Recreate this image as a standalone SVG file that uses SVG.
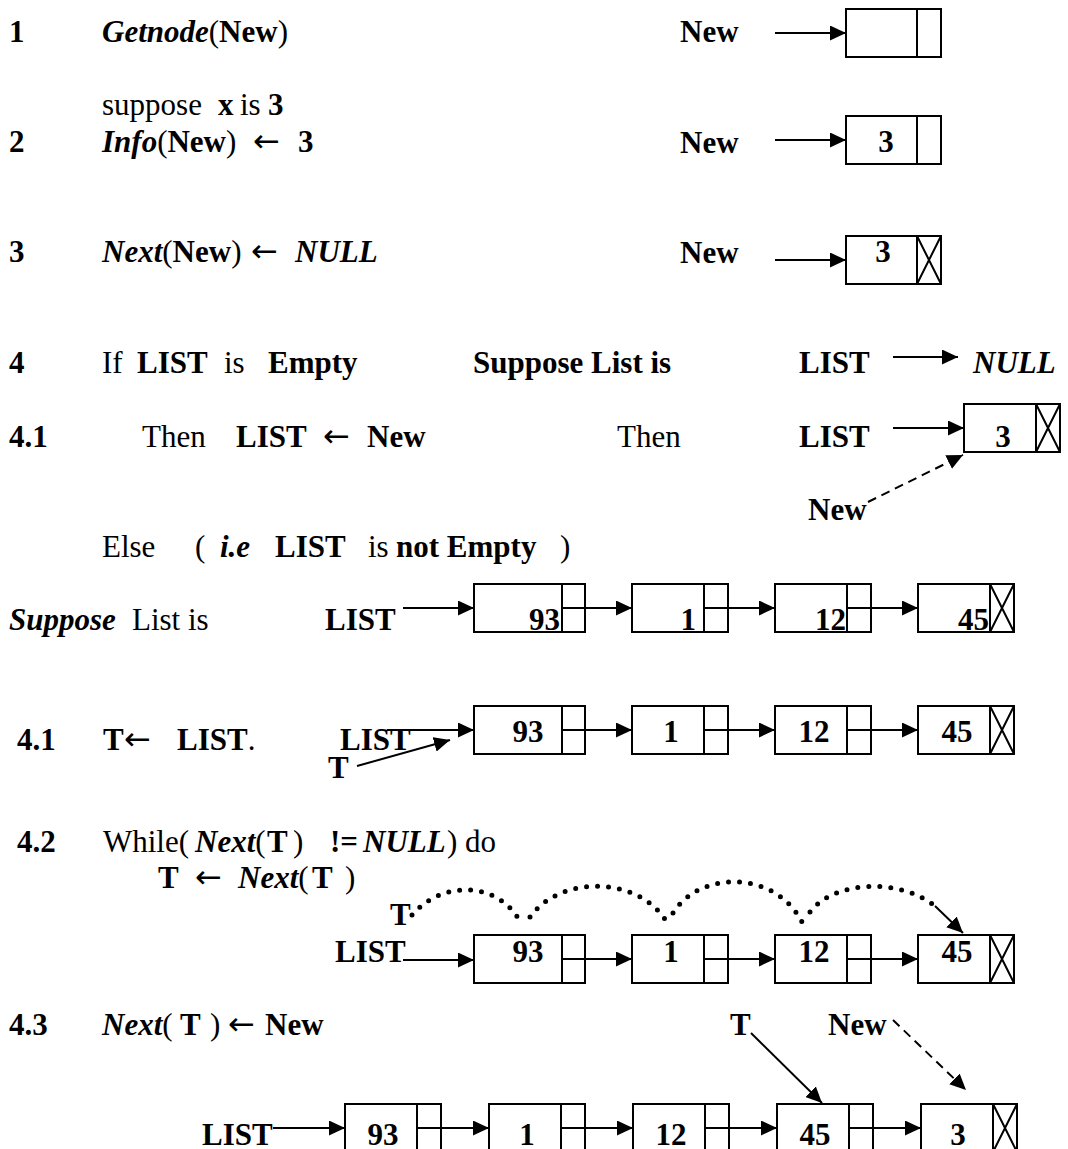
<svg xmlns="http://www.w3.org/2000/svg" width="1068" height="1149" viewBox="0 0 1068 1149">
<defs>
<style>
.t{font-family:"Liberation Serif","Times New Roman",serif;font-size:31px;fill:#000}
.b{font-weight:bold}
.i{font-style:italic}
.la{font-family:"DejaVu Sans",sans-serif;font-weight:normal;font-style:normal;font-size:32px}
.bx{fill:#fff;stroke:#000;stroke-width:2}
.ln{fill:none;stroke:#000;stroke-width:2}
.ar{fill:none;stroke:#000;stroke-width:2;marker-end:url(#ah)}
.da{stroke-dasharray:9 6}
.dt{fill:none;stroke:#000;stroke-width:5;stroke-linecap:round;stroke-dasharray:0 11}
.c{text-anchor:middle}
.e{text-anchor:end}
</style>
<marker id="ah" markerUnits="userSpaceOnUse" viewBox="0 0 16 15" refX="16" refY="7.5" markerWidth="16" markerHeight="15" orient="auto">
<path d="M0,0 L16,7.5 L0,15 z" fill="#000"/>
</marker>
</defs>
<rect width="1068" height="1149" fill="#fff"/>

<g id="text">
<text class="t b" x="9" y="42">1</text>
<text class="t" x="102" y="42"><tspan class="b i">Getnode</tspan>(<tspan class="b">New</tspan>)</text>
<text class="t b" x="680" y="42">New</text>

<text class="t" x="102" y="115">suppose<tspan class="b" x="218">x</tspan><tspan x="240">is</tspan><tspan class="b" x="268">3</tspan></text>
<text class="t b" x="9" y="152">2</text>
<text class="t" x="102" y="152"><tspan class="b i">Info</tspan>(<tspan class="b">New</tspan>)<tspan class="la" x="253">←</tspan><tspan class="b" x="298">3</tspan></text>
<text class="t b" x="680" y="153">New</text>

<text class="t b" x="9" y="262">3</text>
<text class="t" x="102" y="262"><tspan class="b i">Next</tspan>(<tspan class="b">New</tspan>)<tspan class="la" x="251">←</tspan><tspan class="b i" x="295">NULL</tspan></text>
<text class="t b" x="680" y="263">New</text>

<text class="t b" x="9" y="373">4</text>
<text class="t" x="102" y="373">If<tspan class="b" x="137">LIST</tspan><tspan x="224">is</tspan><tspan class="b" x="268">Empty</tspan></text>
<text class="t b" x="473" y="373">Suppose List is</text>
<text class="t b" x="799" y="373">LIST</text>
<text class="t b i" x="973" y="373">NULL</text>

<text class="t b" x="9" y="447">4.1</text>
<text class="t" x="142" y="447">Then<tspan class="b" x="236">LIST</tspan><tspan class="la" x="323">←</tspan><tspan class="b" x="367">New</tspan></text>
<text class="t" x="617" y="447">Then</text>
<text class="t b" x="799" y="447">LIST</text>
<text class="t b" x="808" y="520">New</text>

<text class="t" x="102" y="557">Else<tspan x="195">(</tspan><tspan class="b i" x="220">i.e</tspan><tspan class="b" x="275">LIST</tspan><tspan x="368">is</tspan><tspan class="b" x="396">not Empty</tspan><tspan x="560">)</tspan></text>

<text class="t" x="9" y="630"><tspan class="b i">Suppose</tspan><tspan x="132">List is</tspan></text>
<text class="t b" x="325" y="630">LIST</text>

<text class="t b" x="17" y="750">4.1</text>
<text class="t b" x="103" y="750">T<tspan class="la" x="124">←</tspan><tspan x="177">LIST</tspan><tspan font-weight="normal">.</tspan></text>
<text class="t b" x="340" y="750">LIST</text>
<text class="t b" x="328" y="778">T</text>

<text class="t b" x="17" y="852">4.2</text>
<text class="t" x="103" y="852">While(<tspan class="b i" x="195">Next</tspan>(<tspan class="b" x="267">T</tspan><tspan x="293">)</tspan><tspan class="b" x="330">!=</tspan><tspan class="b i" x="363">NULL</tspan><tspan x="447">) do</tspan></text>
<text class="t" x="158" y="888"><tspan class="b">T</tspan><tspan class="la" x="195">←</tspan><tspan class="b i" x="238">Next</tspan>(<tspan class="b" x="312">T</tspan><tspan x="345">)</tspan></text>
<text class="t b" x="390" y="925">T</text>
<text class="t b" x="335" y="962">LIST</text>

<text class="t b" x="9" y="1035">4.3</text>
<text class="t" x="102" y="1035"><tspan class="b i">Next</tspan>(<tspan class="b" x="180">T</tspan><tspan x="210">)</tspan><tspan class="la" x="228">←</tspan><tspan class="b" x="265">New</tspan></text>
<text class="t b" x="730" y="1035">T</text>
<text class="t b" x="828" y="1035">New</text>
<text class="t b" x="202" y="1145">LIST</text>
</g>

<g id="node-new1"><rect class="bx" x="846" y="9" width="95" height="48"/><line class="ln" x1="917" y1="9" x2="917" y2="57"/></g>
<g id="node-new2"><rect class="bx" x="846" y="116" width="95" height="48"/><line class="ln" x1="917" y1="116" x2="917" y2="164"/><text class="t b c" x="886" y="152">3</text></g>
<g id="node-new3"><rect class="bx" x="846" y="236" width="95" height="48"/><line class="ln" x1="917" y1="236" x2="917" y2="284"/><path class="ln" d="M917,236 L941,284 M941,236 L917,284"/><text class="t b c" x="883" y="262">3</text></g>
<g id="node-list1"><rect class="bx" x="964" y="404" width="96" height="48"/><line class="ln" x1="1036" y1="404" x2="1036" y2="452"/><path class="ln" d="M1036,404 L1060,452 M1060,404 L1036,452"/><text class="t b c" x="1003" y="447">3</text></g>

<g id="row-suppose">
<g id="s93"><rect class="bx" x="474" y="584" width="111" height="48"/><line class="ln" x1="562" y1="584" x2="562" y2="632"/><text class="t b e" x="560" y="630">93</text></g>
<g id="s1"><rect class="bx" x="632" y="584" width="96" height="48"/><line class="ln" x1="704" y1="584" x2="704" y2="632"/><text class="t b e" x="696" y="630">1</text></g>
<g id="s12"><rect class="bx" x="775" y="584" width="96" height="48"/><line class="ln" x1="847" y1="584" x2="847" y2="632"/><text class="t b e" x="846" y="630">12</text></g>
<g id="s45"><rect class="bx" x="918" y="584" width="96" height="48"/><line class="ln" x1="990" y1="584" x2="990" y2="632"/><path class="ln" d="M990,584 L1014,632 M1014,584 L990,632"/><text class="t b e" x="989" y="630">45</text></g>
</g>

<g id="row-41">
<g id="a93"><rect class="bx" x="474" y="706" width="111" height="48"/><line class="ln" x1="562" y1="706" x2="562" y2="754"/><text class="t b c" x="528" y="742">93</text></g>
<g id="a1"><rect class="bx" x="632" y="706" width="96" height="48"/><line class="ln" x1="704" y1="706" x2="704" y2="754"/><text class="t b c" x="671" y="742">1</text></g>
<g id="a12"><rect class="bx" x="775" y="706" width="96" height="48"/><line class="ln" x1="847" y1="706" x2="847" y2="754"/><text class="t b c" x="814" y="742">12</text></g>
<g id="a45"><rect class="bx" x="918" y="706" width="96" height="48"/><line class="ln" x1="990" y1="706" x2="990" y2="754"/><path class="ln" d="M990,706 L1014,754 M1014,706 L990,754"/><text class="t b c" x="957" y="742">45</text></g>
</g>

<g id="row-42">
<g id="b93"><rect class="bx" x="474" y="935" width="111" height="48"/><line class="ln" x1="562" y1="935" x2="562" y2="983"/><text class="t b c" x="528" y="962">93</text></g>
<g id="b1"><rect class="bx" x="632" y="935" width="96" height="48"/><line class="ln" x1="704" y1="935" x2="704" y2="983"/><text class="t b c" x="671" y="962">1</text></g>
<g id="b12"><rect class="bx" x="775" y="935" width="96" height="48"/><line class="ln" x1="847" y1="935" x2="847" y2="983"/><text class="t b c" x="814" y="962">12</text></g>
<g id="b45"><rect class="bx" x="918" y="935" width="96" height="48"/><line class="ln" x1="990" y1="935" x2="990" y2="983"/><path class="ln" d="M990,935 L1014,983 M1014,935 L990,983"/><text class="t b c" x="957" y="962">45</text></g>
</g>

<g id="row-43">
<g id="c93"><rect class="bx" x="345" y="1104" width="96" height="48"/><line class="ln" x1="417" y1="1104" x2="417" y2="1152"/><text class="t b c" x="383" y="1145">93</text></g>
<g id="c1"><rect class="bx" x="489" y="1104" width="96" height="48"/><line class="ln" x1="561" y1="1104" x2="561" y2="1152"/><text class="t b c" x="527" y="1145">1</text></g>
<g id="c12"><rect class="bx" x="633" y="1104" width="96" height="48"/><line class="ln" x1="705" y1="1104" x2="705" y2="1152"/><text class="t b c" x="671" y="1145">12</text></g>
<g id="c45"><rect class="bx" x="777" y="1104" width="96" height="48"/><line class="ln" x1="849" y1="1104" x2="849" y2="1152"/><text class="t b c" x="815" y="1145">45</text></g>
<g id="c3"><rect class="bx" x="921" y="1104" width="96" height="48"/><line class="ln" x1="993" y1="1104" x2="993" y2="1152"/><path class="ln" d="M993,1104 L1017,1152 M1017,1104 L993,1152"/><text class="t b c" x="958" y="1145">3</text></g>
</g>

<g id="connectors">
<line class="ar" x1="775" y1="33" x2="846" y2="33"/>
<line class="ar" x1="775" y1="140" x2="846" y2="140"/>
<line class="ar" x1="775" y1="260" x2="846" y2="260"/>
<line class="ar" x1="893" y1="357" x2="958" y2="357"/>
<line class="ar" x1="893" y1="428" x2="964" y2="428"/>
<line class="ar da" x1="868" y1="502" x2="963" y2="455"/>

<line class="ar" x1="403" y1="608" x2="474" y2="608"/>
<line class="ar" x1="562" y1="608" x2="632" y2="608"/>
<line class="ar" x1="704" y1="608" x2="775" y2="608"/>
<line class="ar" x1="847" y1="608" x2="918" y2="608"/>

<line class="ar" x1="387" y1="730" x2="474" y2="730"/>
<line class="ar" x1="357" y1="766" x2="450" y2="740"/>
<line class="ar" x1="562" y1="730" x2="632" y2="730"/>
<line class="ar" x1="704" y1="730" x2="775" y2="730"/>
<line class="ar" x1="847" y1="730" x2="918" y2="730"/>

<line class="ar" x1="403" y1="960" x2="474" y2="960"/>
<line class="ar" x1="562" y1="959" x2="632" y2="959"/>
<line class="ar" x1="704" y1="959" x2="775" y2="959"/>
<line class="ar" x1="847" y1="959" x2="918" y2="959"/>
<path class="dt" d="M412,915 C442,880 500,880 522,925"/>
<path class="dt" d="M530,917 C560,875 640,875 668,924"/>
<path class="dt" d="M673,913 C700,870 775,870 802,922"/>
<path class="dt" d="M810,912 C835,880 900,878 935,906"/>
<line class="ar" x1="935" y1="906" x2="963" y2="933"/>

<line class="ar" x1="751" y1="1033" x2="822" y2="1103"/>
<line class="ar da" x1="893" y1="1020" x2="966" y2="1090"/>
<line class="ar" x1="273" y1="1128" x2="345" y2="1128"/>
<line class="ar" x1="417" y1="1128" x2="489" y2="1128"/>
<line class="ar" x1="561" y1="1128" x2="633" y2="1128"/>
<line class="ar" x1="705" y1="1128" x2="777" y2="1128"/>
<line class="ar" x1="849" y1="1128" x2="921" y2="1128"/>
</g>
</svg>
